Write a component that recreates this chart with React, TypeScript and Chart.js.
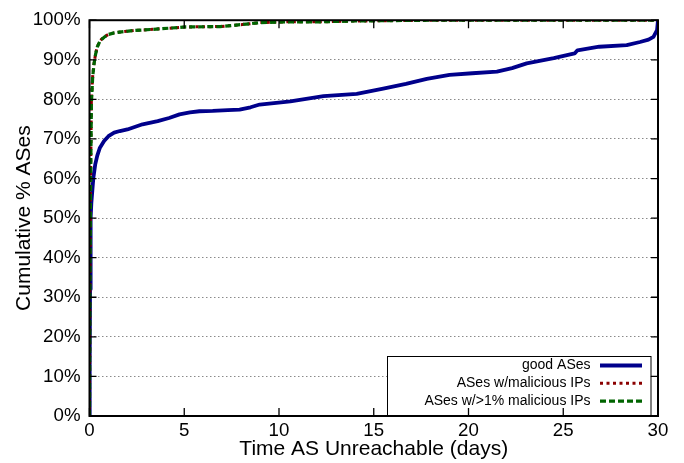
import React, { useEffect, useRef } from 'react';
import { Chart, registerables } from 'chart.js';

Chart.register(...registerables);

const FONT = "'Liberation Sans', Arial, Helvetica, sans-serif";

// ---- data (days unreachable -> cumulative % of ASes) ----
const seriesLabels = ['good ASes', 'ASes w/malicious IPs', 'ASes w/>1% malicious IPs'];

const goodDays = [0, 0.01, 0.03, 0.06, 0.1, 0.2, 0.3, 0.41, 0.55, 0.77, 1.0, 1.3, 1.6, 2.0, 2.8, 3.6, 4.2, 4.75, 5.3, 5.8, 6.5, 7.3, 7.92, 8.5, 8.98, 10.6, 12.35, 14.1, 15.5, 16.7, 17.8, 19.0, 20.2, 21.5, 22.3, 23.07, 24.5, 25.6, 25.75, 26.9, 28.35, 29.05, 29.5, 29.76, 29.95, 30];
const goodPct = [0, 12, 32, 50, 54, 60, 63.5, 65.8, 67.8, 69.5, 70.7, 71.6, 72.0, 72.4, 73.7, 74.5, 75.3, 76.2, 76.7, 77.0, 77.1, 77.3, 77.4, 78.0, 78.7, 79.5, 80.8, 81.4, 82.7, 83.9, 85.2, 86.2, 86.6, 87.0, 87.9, 89.1, 90.4, 91.6, 92.4, 93.3, 93.7, 94.5, 95.1, 95.8, 97.5, 100];

const malDays = [0, 0.02, 0.05, 0.1, 0.17, 0.24, 0.32, 0.41, 0.55, 0.77, 1.0, 1.3, 1.6, 2.35, 3.35, 5.1, 6.9, 7.6, 8.45, 9.0, 10.4, 12.2, 14, 18, 30];
const malPct = [0, 30, 55, 80, 86, 89.1, 91.5, 93.3, 94.8, 95.8, 96.4, 96.8, 97.0, 97.4, 97.7, 98.3, 98.4, 98.7, 99.1, 99.4, 99.6, 99.6, 99.8, 100, 100];

const mal1Days = [0, 0.02, 0.05, 0.1, 0.17, 0.24, 0.32, 0.41, 0.55, 0.77, 1.0, 1.3, 1.6, 2.35, 3.35, 5.1, 6.9, 7.6, 8.45, 9.0, 10.4, 12.2, 14, 18, 30];
const mal1Pct = [0, 29, 54, 79, 85.8, 89.0, 91.4, 93.2, 94.7, 95.7, 96.4, 96.8, 97.0, 97.4, 97.7, 98.3, 98.4, 98.7, 99.1, 99.4, 99.6, 99.6, 99.8, 100, 100];

const xTickStep = 5;
const yTickStep = 10;

const toPoints = (xs: number[], ys: number[]) => xs.map((x, i) => ({ x, y: ys[i] }));

const gnuplotFrame = {
  id: 'gnuplotFrame',
  afterDraw(chart: any) {
    const { ctx, chartArea: a, scales } = chart;
    const xs = scales.x;
    const ys = scales.y;
    ctx.save();

    // legend box (opaque)
    const bw = 263.5;
    const bh = 60;
    const bx = a.right - 271;
    const by = a.bottom - bh;
    ctx.fillStyle = '#ffffff';
    ctx.fillRect(bx, by, bw, bh);
    ctx.strokeStyle = '#000';
    ctx.lineWidth = 1;
    ctx.setLineDash([]);
    ctx.strokeRect(bx + 0.5, by + 0.5, bw, bh);
    ctx.font = `14px ${FONT}`;
    ctx.textAlign = 'right';
    ctx.textBaseline = 'middle';
    chart.data.datasets.forEach((ds: any, i: number) => {
      const y = by + 9.5 + i * 17.8;
      ctx.fillStyle = '#000';
      ctx.fillText(ds.label, bx + 203.5, y);
      ctx.beginPath();
      ctx.setLineDash(ds.borderDash || []);
      ctx.strokeStyle = ds.borderColor;
      ctx.lineWidth = ds.borderWidth;
      ctx.moveTo(bx + 213, y);
      ctx.lineTo(bx + 255, y);
      ctx.stroke();
    });
    ctx.setLineDash([]);

    // inward ticks on all four sides
    ctx.strokeStyle = '#000';
    ctx.lineWidth = 1.3;
    ctx.beginPath();
    xs.ticks.forEach((t: any) => {
      const px = xs.getPixelForValue(t.value);
      ctx.moveTo(px, a.bottom);
      ctx.lineTo(px, a.bottom - 8);
      ctx.moveTo(px, a.top);
      ctx.lineTo(px, a.top + 8);
    });
    ys.ticks.forEach((t: any) => {
      const py = ys.getPixelForValue(t.value);
      ctx.moveTo(a.left, py);
      ctx.lineTo(a.left + 7, py);
      ctx.moveTo(a.right, py);
      ctx.lineTo(a.right - 7, py);
    });
    ctx.stroke();

    // border
    ctx.lineWidth = 2;
    ctx.strokeRect(a.left, a.top, a.right - a.left, a.bottom - a.top);
    ctx.restore();
  },
};

export default function App() {
  const ref = useRef<HTMLCanvasElement | null>(null);

  useEffect(() => {
    if (!ref.current) return;
    const chart = new Chart(ref.current, {
      type: 'line',
      data: {
        datasets: [
          {
            label: seriesLabels[0],
            data: toPoints(goodDays, goodPct),
            borderColor: '#00008b',
            borderWidth: 3.8,
            pointRadius: 0,
            tension: 0,
            borderJoinStyle: 'round',
            order: 3,
          },
          {
            label: seriesLabels[1],
            data: toPoints(malDays, malPct),
            borderColor: '#8b0000',
            borderWidth: 3,
            borderDash: [3, 3.5],
            pointRadius: 0,
            tension: 0,
            order: 2,
          },
          {
            label: seriesLabels[2],
            data: toPoints(mal1Days, mal1Pct),
            borderColor: '#006400',
            borderWidth: 3.2,
            borderDash: [6, 3],
            pointRadius: 0,
            tension: 0,
            order: 1,
          },
        ],
      },
      options: {
        responsive: false,
        animation: false,
        devicePixelRatio: 1,
        layout: { padding: { top: 16.5, right: 26, left: 0, bottom: 0 } },
        plugins: {
          legend: { display: false },
          tooltip: { enabled: false },
        },
        scales: {
          x: {
            type: 'linear',
            min: 0,
            max: 30,
            afterFit: (s: any) => {
              s.height = 47;
            },
            ticks: {
              stepSize: xTickStep,
              color: '#000',
              font: { family: FONT, size: 18.7 },
              padding: 4,
              maxRotation: 0,
            },
            grid: { display: false, drawTicks: false },
            border: { display: false },
            title: {
              display: true,
              text: 'Time AS Unreachable (days)',
              color: '#000',
              font: { family: FONT, size: 21, lineHeight: 1.2 },
              padding: { top: 0, bottom: 1 },
            },
          },
          y: {
            type: 'linear',
            min: 0,
            max: 100,
            afterFit: (s: any) => {
              s.width = 89.5;
            },
            ticks: {
              stepSize: yTickStep,
              color: '#000',
              font: { family: FONT, size: 18.7 },
              padding: 9,
              callback: (v: any) => `${v}%`,
            },
            grid: {
              color: (c: any) => (c.tick && (c.tick.value === 0 || c.tick.value === 100) ? 'rgba(0,0,0,0)' : '#8a8a8a'),
              lineWidth: 1,
              drawTicks: false,
            },
            border: { display: false, dash: [1.5, 2.5] },
            title: {
              display: true,
              text: 'Cumulative % ASes',
              color: '#000',
              font: { family: FONT, size: 21, lineHeight: 1.2 },
              padding: { top: 12, bottom: 0 },
            },
          },
        },
      },
      plugins: [gnuplotFrame],
    } as any);
    return () => chart.destroy();
  }, []);

  return (
    <div style={{ position: 'absolute', left: 0, top: 0, width: 684, height: 463 }}>
      <canvas ref={ref} width={684} height={463} style={{ width: 684, height: 463 }} />
    </div>
  );
}
